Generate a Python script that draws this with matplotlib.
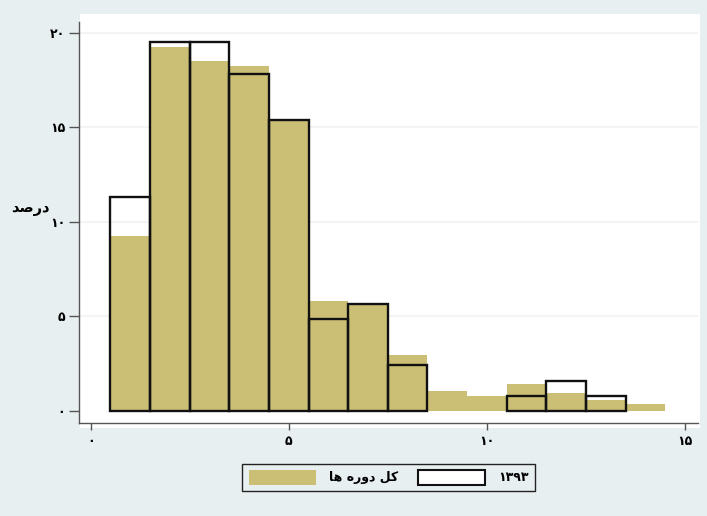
import numpy as np
import matplotlib
matplotlib.use("Agg")
from matplotlib import pyplot as plt
from matplotlib.patches import Patch, Rectangle

plt.rcParams['font.family'] = ['DejaVu Sans']

# histogram bins (width 1, centred on 1..14)
bin_centers = [1, 2, 3, 4, 5, 6, 7, 8, 9, 10, 11, 12, 13, 14]
# percent, all periods (filled bars)
pct_all = [9.26, 19.24, 18.53, 18.23, 15.4, 5.83, 5.65, 2.95, 1.06, 0.78, 1.41, 0.95, 0.57, 0.36]
# percent, year 1393 (outlined bars)
pct_1393 = [11.34, 19.5, 19.5, 17.84, 15.4, 4.84, 5.65, 2.4, 0.0, 0.0, 0.78, 1.59, 0.78, 0.0]

x_ticks = [0, 5, 10, 15]
x_ticklabels = ['\u06f0', '\u06f5', '\u06f1\u06f0', '\u06f1\u06f5']
y_ticks = [0, 5, 10, 15, 20]
y_ticklabels = ['\u06f0', '\u06f5', '\u06f1\u06f0', '\u06f1\u06f5', '\u06f2\u06f0']

# Persian strings written in presentation forms, visual order
ylabel_txt = '\uFEAA\uFEBB\uFEAD\uFEA9'                                   # درصد
label_all = '\uFE8E\uFEEB \uFEE9\uFEAD\uFEED\uFEA9 \uFEDE\uFEDB'           # کل دوره ها
label_1393 = '\u06f1\u06f3\u06f9\u06f3'                                   # ۱۳۹۳

fill_col = '#cbbf76'
bg_col = '#e8eff0'

W, H = 707, 516
fig = plt.figure(figsize=(W / 100, H / 100), dpi=100, facecolor=bg_col)

# white plot region behind the axes
fig.patches.append(Rectangle((80 / W, 1 - 428 / H), 620 / W, 414 / H,
                             transform=fig.transFigure, facecolor='white',
                             edgecolor='none', zorder=-5))

ax = fig.add_axes([79 / W, 1 - 422.7 / H, 619 / W, 401 / H])
ax.set_facecolor('white')
ax.set_xlim(-0.295, 15.33)
ax.set_ylim(-0.64, 20.6)

for yv in y_ticks[1:]:
    ax.axhline(yv, color='#f3f5f5', lw=1.5, zorder=0)

ax.bar(bin_centers, pct_all, width=1.0, color=fill_col, edgecolor='none', zorder=2)

# empty bins of 1393 get no outline at all
xc = [c for c, v in zip(bin_centers, pct_1393) if v > 0]
hv = [v for v in pct_1393 if v > 0]
ax.bar(xc, hv, width=1.0, facecolor='none', edgecolor='#111111',
       linewidth=1.7, zorder=3)

for s in ['top', 'right']:
    ax.spines[s].set_visible(False)
for s in ['left', 'bottom']:
    ax.spines[s].set_color('#555555')
    ax.spines[s].set_linewidth(1.0)

ax.set_xticks(x_ticks)
ax.set_xticklabels(x_ticklabels, fontsize=9, fontweight='bold')
ax.set_yticks(y_ticks)
ax.set_yticklabels(y_ticklabels, fontsize=9, fontweight='bold')
ax.tick_params(axis='y', length=7, width=1, color='#555555', pad=3)
ax.tick_params(axis='x', length=5, width=1, color='#555555', pad=4)

fig.text(30 / W, 1 - 209 / H, ylabel_txt, fontsize=10.5, fontweight='bold',
         ha='center', va='center')

handles = [Patch(facecolor=fill_col, edgecolor='none'),
           Patch(facecolor='white', edgecolor='#111111', linewidth=1.5)]
leg = fig.legend(handles, [label_all, label_1393], ncol=2, loc='center',
                 bbox_to_anchor=(388.5 / W, 1 - 477.3 / H),
                 prop={'weight': 'bold', 'size': 9},
                 handlelength=5.4, handleheight=1.4, handletextpad=1.0,
                 columnspacing=1.6, borderpad=0.5, fancybox=False,
                 frameon=True)
leg.get_frame().set_edgecolor('#222222')
leg.get_frame().set_linewidth(1.0)
leg.get_frame().set_facecolor(bg_col)
leg.get_frame().set_alpha(1.0)

fig.savefig('out.png', dpi=100, facecolor=fig.get_facecolor())
